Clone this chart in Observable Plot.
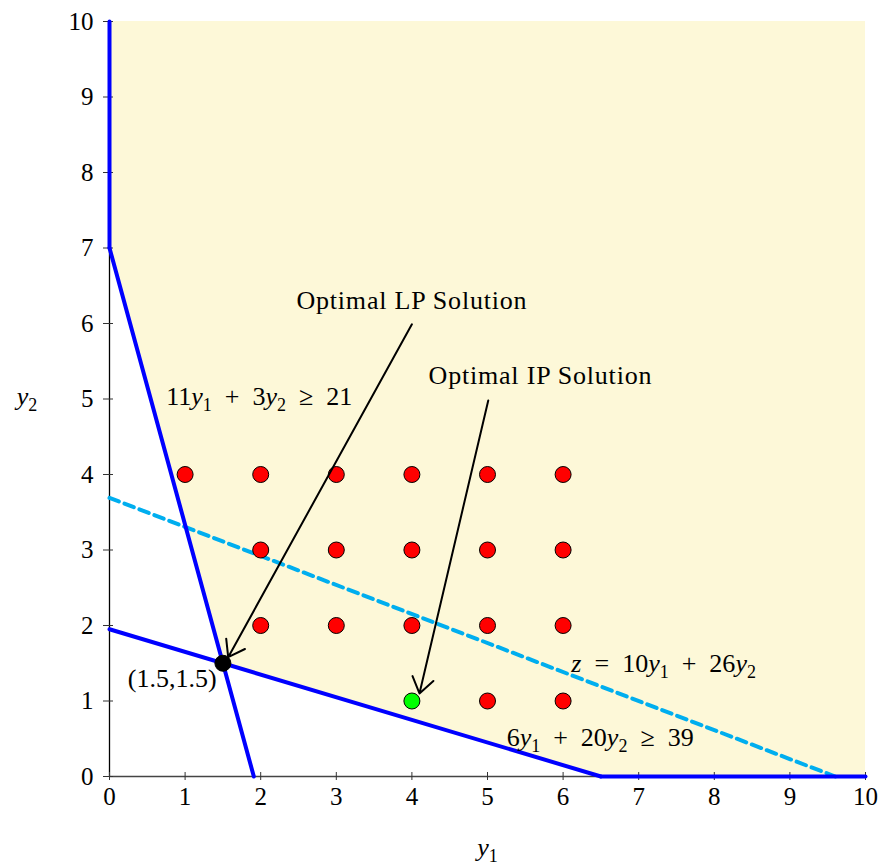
<!DOCTYPE html>
<html>
<head>
<meta charset="utf-8">
<script src="https://cdn.jsdelivr.net/npm/d3@7"></script>
<script src="https://cdn.jsdelivr.net/npm/@observablehq/plot@0.6"></script>
<style>
  html, body { margin: 0; padding: 0; background: #fff; }
  svg text { white-space: pre; }
</style>
</head>
<body>
<div id="chart"></div>
<script>
// ---- data ----
const ticks = [0, 1, 2, 3, 4, 5, 6, 7, 8, 9, 10];

// feasible region: lower boundary as a function of y1 (upper is y2 = 10)
const regionY1 = [0, 1.5, 6.5, 10];
const regionLow = [7, 1.5, 0, 0];

// blue constraint boundary segments
const boundaryId = ["axisY", "axisY", "c1", "c1", "c2", "c2", "axisX", "axisX"];
const boundaryY1 = [0, 0, 0, 21 / 11, 0, 6.5, 6.5, 10];
const boundaryY2 = [10, 7, 7, 0, 1.95, 0, 0, 0];

// objective (dashed) line z = 10y1 + 26y2
const objY1 = [0, 9.6];
const objY2 = [3.69, 0];

// integer feasible points (red)
const ptsY1 = [1, 2, 3, 4, 5, 6, 2, 3, 4, 5, 6, 2, 3, 4, 5, 6, 5, 6];
const ptsY2 = [4, 4, 4, 4, 4, 4, 3, 3, 3, 3, 3, 2, 2, 2, 2, 2, 1, 1];

// optimal solutions
const lpPoint = [1.5, 1.5];
const ipPoint = [4, 1];

// annotations
const noteText = ["Optimal LP Solution", "Optimal IP Solution"];
const noteX = [4.0, 5.7];
const noteY = [6.30, 5.31];
const arrowX1 = [4.0, 5.01];
const arrowY1 = [5.99, 4.98];
const arrowX2 = [1.57, 4.10];
const arrowY2 = [1.58, 1.10];

// math labels
const mathKey = ["c1", "obj", "c2", "pt", "ax1", "ax2"];
const mathX = [1.98, 7.33, 6.49, 0.83, 5.0, -1.09];
const mathY = [5.03, 1.50, 0.52, 1.30, -0.94, 5.03];
const mathParts = {
  c1: [["11", ""], ["y", "i"], ["1", "s"], ["  +  3", ""], ["y", "i"], ["2", "s"], ["  ≥  21", ""]],
  obj: [["z", "i"], ["  =  10", ""], ["y", "i"], ["1", "s"], ["  +  26", ""], ["y", "i"], ["2", "s"]],
  c2: [["6", ""], ["y", "i"], ["1", "s"], ["  +  20", ""], ["y", "i"], ["2", "s"], ["  ≥  39", ""]],
  pt: [["(1.5,1.5)", ""]],
  ax1: [["y", "i"], ["1", "s"]],
  ax2: [["y", "i"], ["2", "s"]]
};

// ---- build tables ----
const region = regionY1.map((x, i) => ({x, lo: regionLow[i]}));
const boundary = boundaryId.map((id, i) => ({id, x: boundaryY1[i], y: boundaryY2[i]}));
const objective = objY1.map((x, i) => ({x, y: objY2[i]}));
const points = ptsY1.map((x, i) => ({x, y: ptsY2[i]}));
const notes = noteText.map((t, i) => ({t, x: noteX[i], y: noteY[i]}));
const arrows = arrowX1.map((x, i) => ({x1: x, y1: arrowY1[i], x2: arrowX2[i], y2: arrowY2[i]}));
const maths = mathKey.map((k, i) => ({k, x: mathX[i], y: mathY[i]}));

const FONT = "'Liberation Serif', 'DejaVu Serif', serif";
const FS = 26;
const TFS = 25;

const plot = Plot.plot({
  width: 884,
  height: 867,
  marginLeft: 109,
  marginRight: 19,
  marginTop: 21,
  marginBottom: 91,
  style: {fontFamily: FONT, fontSize: TFS + "px", color: "#000", background: "#fff", overflow: "visible"},
  x: {domain: [0, 10], ticks: ticks},
  y: {domain: [0, 10], ticks: ticks},
  marks: [
    Plot.areaY(region, {x: "x", y1: "lo", y2: 10, fill: "#fdf8d8"}),
    Plot.ruleY([0], {x1: 0, x2: 10, stroke: "#444", strokeWidth: 1.3}),
    Plot.ruleX([0], {y1: 0, y2: 10, stroke: "#000", strokeWidth: 1.3}),
    Plot.axisX(ticks, {tickSize: 4, tickPadding: 7, label: null, fontSize: TFS, stroke: "#333", tickFormat: d3.format("d")}),
    Plot.axisX(ticks, {tickSize: -4, tickFormat: () => "", label: null, stroke: "#333"}),
    Plot.axisY(ticks, {tickSize: 6, tickPadding: 10, label: null, fontSize: TFS, stroke: "#333", tickFormat: d3.format("d")}),
    Plot.axisY(ticks, {tickSize: -4, tickFormat: () => "", label: null, stroke: "#333"}),
    Plot.line(objective, {x: "x", y: "y", stroke: "#00aeef", strokeWidth: 4, strokeDasharray: "10,6"}),
    Plot.line(boundary, {x: "x", y: "y", z: "id", stroke: "#0000ff", strokeWidth: 4, strokeLinejoin: "miter"}),
    Plot.dot(points, {x: "x", y: "y", r: 8, fill: "#ff0000", stroke: "#000", strokeWidth: 1}),
    Plot.dot([ipPoint], {x: d => d[0], y: d => d[1], r: 8, fill: "#00ff00", stroke: "#000", strokeWidth: 1}),
    Plot.dot([lpPoint], {x: d => d[0], y: d => d[1], r: 8, fill: "#000", stroke: "#000", strokeWidth: 1}),
    Plot.arrow(arrows, {x1: "x1", y1: "y1", x2: "x2", y2: "y2", stroke: "#000", strokeWidth: 2, headLength: 14, headAngle: 70}),
    Plot.text(notes, {x: "x", y: "y", text: "t", fontSize: FS, fill: "#000", fontFamily: FONT}),
    Plot.text(maths, {x: "x", y: "y", text: "k", fontSize: FS, fill: "#000", fontFamily: FONT, clip: false})
  ]
});

// render math labels with italic variables and subscripts
d3.select(plot).selectAll("text").each(function () {
  const key = this.textContent;
  if (!mathParts[key] || this.childElementCount > 0) return;
  const el = d3.select(this);
  el.text("");
  let sub = false;
  mathParts[key].forEach(([s, st]) => {
    const t = el.append("tspan").text(s);
    if (st === "i") t.attr("font-style", "italic");
    if (st === "s") {
      t.attr("font-size", Math.round(FS * 0.7)).attr("dy", 6);
      sub = true;
    } else if (sub) {
      t.attr("dy", -6);
      sub = false;
    }
  });
});
// letter spacing for the plain annotation texts
d3.select(plot).selectAll("text").filter(function () { return noteText.includes(this.textContent); })
  .style("letter-spacing", "0.8px");

document.getElementById("chart").appendChild(plot);
</script>
</body>
</html>
